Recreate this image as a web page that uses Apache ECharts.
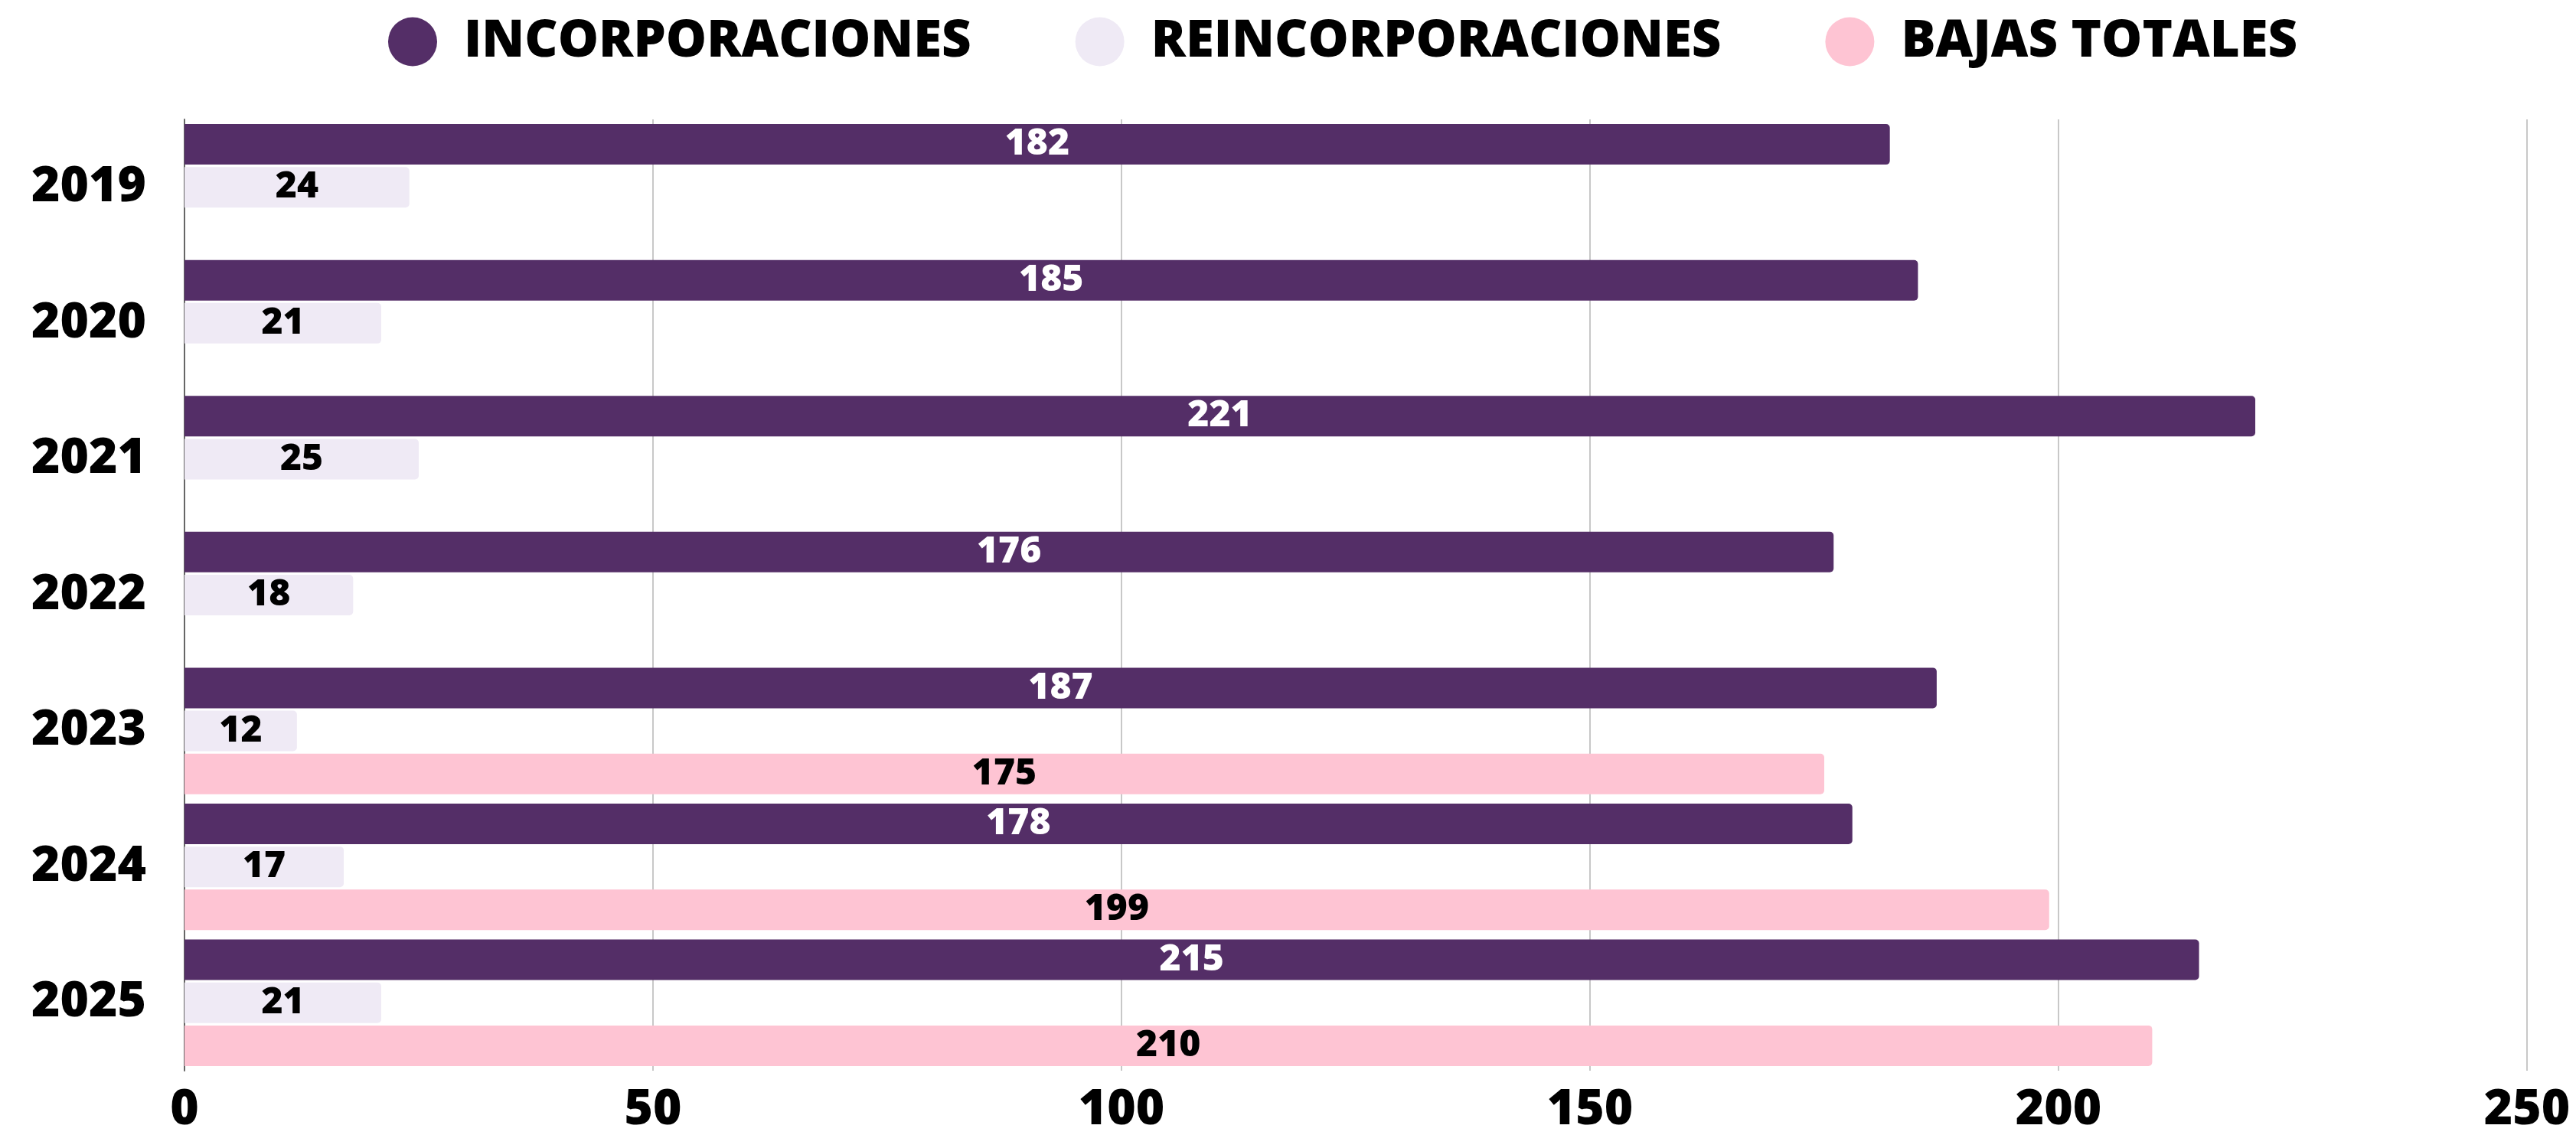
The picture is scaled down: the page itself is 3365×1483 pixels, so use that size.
<!DOCTYPE html>
<html>
<head>
<meta charset="utf-8">
<style>
  html, body { margin: 0; padding: 0; background: #fff; }
  #chart { width: 3365px; height: 1483px; }
</style>
<script src="https://cdn.jsdelivr.net/npm/echarts@6/dist/echarts.min.js"></script>
</head>
<body>
<div id="chart"></div>
<script>
// años (eje de categorías)
const years = ['2019', '2020', '2021', '2022', '2023', '2024', '2025']
const incorporaciones = [182, 185, 221, 176, 187, 178, 215]
const reincorporaciones = [24, 21, 25, 18, 12, 17, 21]
const bajasTotales = [null, null, null, null, 175, 199, 210]
const xTicks = [0, 50, 100, 150, 200, 250]

const FONT = "'Open Sans', sans-serif"
const labelStyle = (color) => ({
  show: true,
  position: 'inside',
  color: color,
  fontFamily: FONT,
  fontWeight: 800,
  fontSize: 48
})

const chart = echarts.init(document.getElementById('chart'))
chart.setOption({
  animation: false,
  legend: {
    top: 16,
    left: 502,
    icon: 'circle',
    itemWidth: 64,
    itemHeight: 64,
    itemGap: 136,
    textStyle: {
      fontFamily: FONT,
      fontWeight: 800,
      fontSize: 67,
      color: '#000',
      padding: [0, 0, 0, 30]
    },
    data: ['INCORPORACIONES', 'REINCORPORACIONES', 'BAJAS TOTALES']
  },
  grid: {
    left: 241,
    right: 64,
    top: 156,
    bottom: 78
  },
  xAxis: {
    type: 'value',
    min: xTicks[0],
    max: xTicks[xTicks.length - 1],
    interval: 50,
    axisLine: { show: false },
    axisTick: { show: false },
    splitLine: { show: true, lineStyle: { color: '#c8c8c8', width: 2 } },
    axisLabel: {
      margin: 20,
      color: '#000',
      fontFamily: FONT,
      fontWeight: 800,
      fontSize: 64
    }
  },
  yAxis: {
    type: 'category',
    inverse: true,
    data: years,
    axisTick: { show: false },
    axisLine: { show: true, lineStyle: { color: '#666', width: 2 } },
    axisLabel: {
      margin: 50,
      color: '#000',
      fontFamily: FONT,
      fontWeight: 800,
      fontSize: 64
    }
  },
  series: [
    {
      name: 'INCORPORACIONES',
      type: 'bar',
      data: incorporaciones,
      barWidth: 53,
      barGap: '6%',
      itemStyle: { color: '#542e67', borderRadius: [0, 5, 5, 0] },
      label: labelStyle('#fff')
    },
    {
      name: 'REINCORPORACIONES',
      type: 'bar',
      data: reincorporaciones,
      barWidth: 53,
      barGap: '6%',
      itemStyle: { color: '#efeaf5', borderRadius: [0, 5, 5, 0] },
      label: labelStyle('#000')
    },
    {
      name: 'BAJAS TOTALES',
      type: 'bar',
      data: bajasTotales,
      barWidth: 53,
      barGap: '6%',
      itemStyle: { color: '#fec4d3', borderRadius: [0, 5, 5, 0] },
      label: labelStyle('#000')
    }
  ]
})
</script>
</body>
</html>
